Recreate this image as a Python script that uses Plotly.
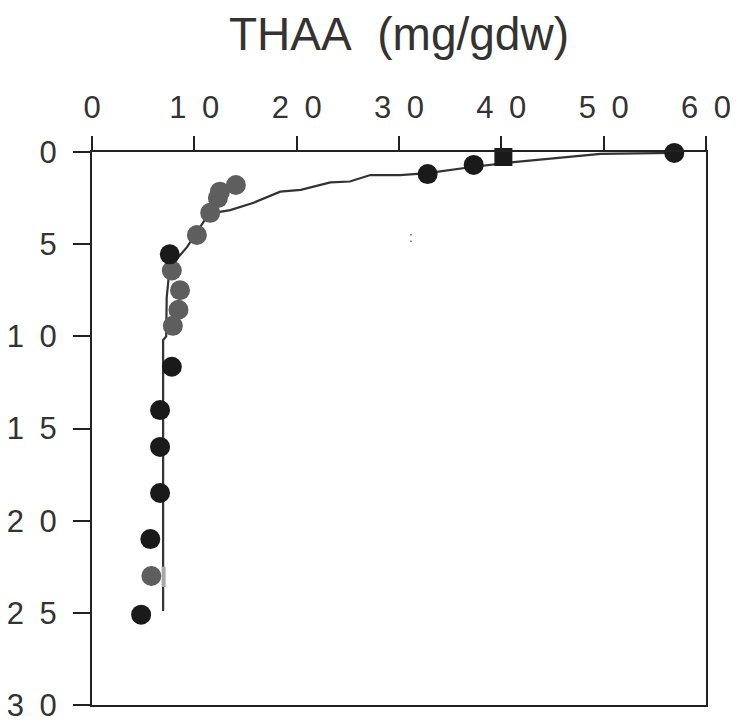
import plotly.graph_objects as go

# ---- data ----
x_ticks = [0, 10, 20, 30, 40, 50, 60]
x_tick_text = ["0", "1\u20020", "2\u20020", "3\u20020", "4\u20020", "5\u20020", "6\u20020"]
y_ticks = [0, 5, 10, 15, 20, 25, 30]
y_tick_text = ["0", "5", "1\u20020", "1\u20025", "2\u20020", "2\u20025", "3\u20020"]

black_x = [56.9, 37.3, 32.8, 7.6, 7.8, 6.65, 6.65, 6.65, 5.7, 4.8]
black_y = [0.05, 0.7, 1.2, 5.55, 11.65, 14.0, 16.0, 18.5, 21.0, 25.1]

square_x = [40.2]
square_y = [0.27]

gray_x = [14.06, 12.5, 12.3, 11.55, 10.25, 7.8, 8.6, 8.45, 7.9, 5.8]
gray_y = [1.79, 2.15, 2.5, 3.3, 4.5, 6.43, 7.5, 8.56, 9.43, 23.0]

fit_x = [56.8, 49.7, 41.2, 37.3, 32.8, 30.1, 27.2, 25.2, 23.3, 20.4, 18.4, 15.8,
         13.5, 12.5, 11.25, 9.3, 8.6, 7.6, 7.3, 7.25, 6.95, 6.95]
fit_y = [0.05, 0.1, 0.55, 0.8, 1.15, 1.25, 1.25, 1.6, 1.65, 2.05, 2.15, 2.75,
         3.15, 3.25, 3.5, 5.15, 5.6, 6.2, 7.9, 10.0, 10.2, 24.9]

bar_x = [7.0, 7.0]
bar_y = [22.5, 23.6]

x_title = "THAA\u00a0 (mg/gdw)"

FONT = "Liberation Sans, Arial, Helvetica, sans-serif"

fig = go.Figure()

fig.add_trace(go.Scatter(x=fit_x, y=fit_y, mode="lines",
                         line=dict(color="#333333", width=2.2), cliponaxis=False,
                         showlegend=False, hoverinfo="skip"))
fig.add_trace(go.Scatter(x=bar_x, y=bar_y, mode="lines",
                         line=dict(color="#a8a8a8", width=4), cliponaxis=False,
                         showlegend=False, hoverinfo="skip"))
fig.add_trace(go.Scatter(x=gray_x, y=gray_y, mode="markers",
                         marker=dict(size=20, color="#5e5e5e", line=dict(width=0)),
                         cliponaxis=False, showlegend=False))
fig.add_trace(go.Scatter(x=black_x, y=black_y, mode="markers",
                         marker=dict(size=20, color="#1a1a1a", line=dict(width=0)),
                         cliponaxis=False, showlegend=False))
fig.add_trace(go.Scatter(x=square_x, y=square_y, mode="markers",
                         marker=dict(size=18, color="#1a1a1a", symbol="square",
                                     line=dict(width=0)),
                         cliponaxis=False, showlegend=False))

# page body adds an 8px offset, so the figure is slightly smaller than the window
fig.update_layout(
    width=730, height=718,
    margin=dict(l=84, r=32, t=144, b=21),
    paper_bgcolor="white", plot_bgcolor="white",
    font=dict(family=FONT, color="#333333"),
)

fig.update_xaxes(
    range=[0, 60], side="top", automargin=False,
    tickmode="array", tickvals=x_ticks, ticktext=x_tick_text,
    tickfont=dict(size=31, family=FONT, color="#333333"),
    ticks="outside", ticklen=14, tickwidth=2, tickcolor="#222222",
    ticklabelstandoff=6,
    showline=True, linecolor="#222222", linewidth=2, mirror=True,
    showgrid=False, zeroline=False,
    title=dict(text=x_title, font=dict(size=46, family=FONT, color="#333333"),
               standoff=28),
)
fig.update_yaxes(
    range=[30, 0], automargin=False,
    tickmode="array", tickvals=y_ticks, ticktext=y_tick_text,
    tickfont=dict(size=31, family=FONT, color="#333333"),
    ticks="outside", ticklen=17, tickwidth=2, tickcolor="#222222",
    ticklabelstandoff=10,
    showline=True, linecolor="#222222", linewidth=2, mirror=True,
    showgrid=False, zeroline=False,
)

fig.add_annotation(x=31.2, y=4.6, text=":", showarrow=False,
                   font=dict(size=14, color="#555555", family=FONT))

fig.write_html("out.html")
